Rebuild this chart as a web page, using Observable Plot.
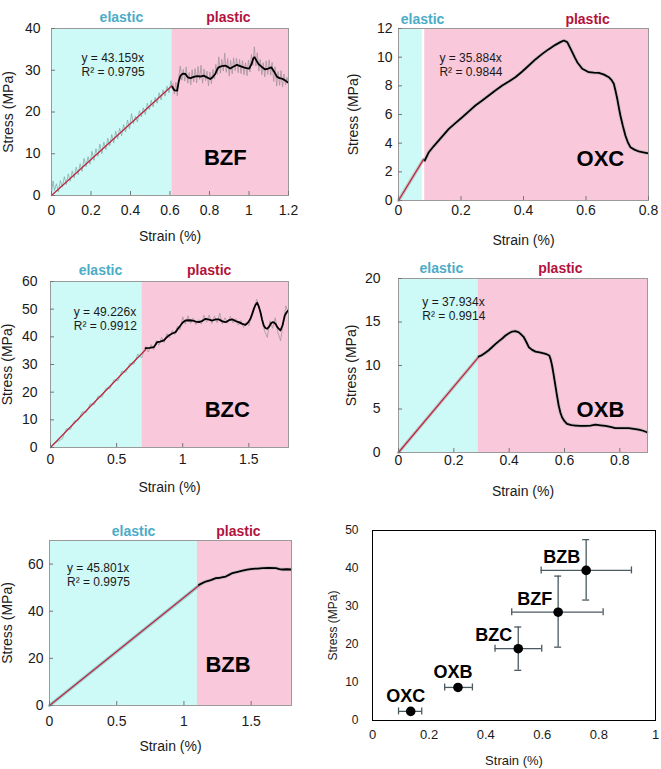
<!DOCTYPE html>
<html><head><meta charset="utf-8">
<script src="https://cdn.jsdelivr.net/npm/d3@7"></script>
<script src="https://cdn.jsdelivr.net/npm/@observablehq/plot@0.6"></script>
<style>
body{margin:0;background:#fff;}
#wrap{position:relative;width:661px;height:769px;overflow:hidden;font-family:Arial,"Liberation Sans",sans-serif;}
.panel{position:absolute;}
</style></head><body><div id="wrap"></div>
<script>
// ---------------- DATA ----------------
const sampleNames = ["BZF", "OXC", "BZC", "OXB", "BZB"];
const equations = ["y = 43.159x\nR² = 0.9795", "y = 35.884x\nR² = 0.9844", "y = 49.226x\nR² = 0.9912", "y = 37.934x\nR² = 0.9914", "y = 45.801x\nR² = 0.9975"];
const xDomains = [[0, 1.2], [0, 0.8], [0, 1.8], [0, 0.9], [0, 1.8]];
const yDomains = [[0, 40], [0, 12], [0, 60], [0, 20], [0, 70]];
const xTickValues = [[0, 0.2, 0.4, 0.6, 0.8, 1, 1.2], [0, 0.2, 0.4, 0.6, 0.8], [0, 0.5, 1, 1.5], [0, 0.2, 0.4, 0.6, 0.8], [0, 0.5, 1, 1.5]];
const yTickValues = [[0, 10, 20, 30, 40], [0, 2, 4, 6, 8, 10, 12], [0, 10, 20, 30, 40, 50, 60], [0, 5, 10, 15, 20], [0, 20, 40, 60]];
// elastic region end, plastic region start (strain %)
const elasticEnd = [0.61, 0.076, 0.692, 0.288, 1.1];
const plasticStart = [0.61, 0.084, 0.692, 0.288, 1.1];
// where the "elastic" / "plastic" headings sit (strain %)
const elasticHeadX = [0.354, 0.077, 0.378, 0.155, 0.625];
const plasticHeadX = [0.896, 0.605, 1.2, 0.585, 1.405];
// annotation anchors in data units [strain, stress]
const equationAt = [[0.152, 31.4], [0.131, 9.5], [0.176, 46.5], [0.086, 16.5], [0.13, 55.7]];
const nameAt = [[0.88, 8.9], [0.646, 2.93], [1.337, 13.4], [0.73, 4.9], [1.328, 17.1]];
// linear fit lines (two end points)
const fitLines = [
  [[0, 0], [0.61, 26.3]],
  [[0, 0], [0.08, 2.87]],
  [[0, 0], [0.72, 35.4]],
  [[0, 0], [0.29, 11.0]],
  [[0, 0], [1.12, 51.3]]
];
// raw (noisy) measurements, elastic part
const rawElasticBZF = [[0,0.5],[0.008,3.5],[0.015,1.2],[0.025,2.8],[0.035,0.9],[0.045,3.6],[0.055,2.0],[0.065,4.5],[0.075,2.6],[0.085,5.2],[0.095,3.4],[0.105,5.9],[0.115,4.2],[0.125,6.8],[0.135,5.0],[0.145,7.6],[0.155,5.8],[0.165,8.9],[0.175,6.9],[0.185,9.3],[0.195,7.5],[0.205,10.6],[0.215,8.4],[0.225,11.2],[0.235,9.4],[0.245,12.3],[0.255,10.0],[0.265,12.8],[0.275,11.0],[0.285,13.7],[0.295,11.9],[0.305,14.6],[0.315,12.6],[0.325,15.4],[0.335,13.6],[0.345,16.1],[0.355,14.3],[0.365,17.0],[0.375,15.2],[0.385,18.1],[0.395,16.0],[0.405,19.6],[0.415,17.2],[0.425,19.0],[0.435,17.6],[0.445,20.3],[0.455,18.8],[0.465,21.0],[0.475,19.4],[0.485,22.1],[0.495,20.6],[0.505,22.8],[0.515,21.2],[0.525,23.5],[0.535,22.1],[0.545,24.6],[0.555,22.9],[0.565,25.3],[0.575,23.8],[0.585,26.2],[0.595,24.6],[0.605,27.5],[0.612,25.5]];
const rawElasticBZC = [[0,0],[0.03,1.6],[0.06,2.3],[0.09,3.2],[0.12,6.8],[0.15,6.5],[0.18,9.6],[0.21,9.8],[0.24,12.9],[0.27,12.6],[0.3,15.8],[0.33,15.4],[0.36,18.6],[0.39,18.2],[0.42,21.4],[0.45,21.3],[0.48,24.5],[0.51,24.1],[0.54,27.6],[0.57,27.2],[0.6,30.4],[0.63,30.1],[0.66,33.8],[0.69,32.4],[0.71,35.6]];
// raw (noisy) measurements, plastic part
const rawPlasticBZF = [[0.615,26.8],[0.622,24.3],[0.63,27.1],[0.637,23.9],[0.645,28.5],[0.652,31.0],[0.66,27.6],[0.667,30.2],[0.675,27.4],[0.682,30.8],[0.69,26.9],[0.697,29.5],[0.705,26.5],[0.712,30.1],[0.72,27.2],[0.727,30.4],[0.735,27.0],[0.742,30.9],[0.75,27.8],[0.757,31.2],[0.765,26.9],[0.772,30.3],[0.78,27.5],[0.787,29.8],[0.795,26.3],[0.802,29.6],[0.81,26.8],[0.817,30.2],[0.825,27.9],[0.832,31.4],[0.84,29.0],[0.847,33.2],[0.855,29.3],[0.862,32.6],[0.87,29.8],[0.877,34.1],[0.885,29.5],[0.892,32.8],[0.9,28.6],[0.907,32.4],[0.915,29.1],[0.922,33.0],[0.93,29.9],[0.937,32.9],[0.945,29.4],[0.952,32.6],[0.96,29.2],[0.967,32.3],[0.975,28.9],[0.982,31.8],[0.99,28.7],[0.997,32.4],[1.005,29.6],[1.012,33.8],[1.02,31.2],[1.027,35.6],[1.035,31.0],[1.042,34.2],[1.05,29.8],[1.057,32.6],[1.065,28.9],[1.072,31.8],[1.08,28.4],[1.087,32.2],[1.095,29.0],[1.102,32.5],[1.11,28.8],[1.117,31.9],[1.125,27.3],[1.132,30.8],[1.14,26.2],[1.147,29.7],[1.155,26.4],[1.162,29.9],[1.17,26.0],[1.177,29.1],[1.185,26.5],[1.192,28.3],[1.2,26.8]];
const rawPlasticBZC = [[0.72,36.6],[0.74,34.5],[0.76,37.2],[0.78,35.4],[0.8,38.6],[0.82,37.0],[0.84,39.8],[0.86,37.9],[0.88,41.2],[0.9,39.6],[0.92,42.3],[0.94,40.8],[0.96,43.9],[0.98,42.6],[1.0,47.2],[1.02,44.6],[1.04,47.6],[1.06,44.9],[1.08,46.8],[1.1,44.4],[1.12,46.2],[1.14,44.6],[1.16,47.8],[1.18,45.3],[1.2,47.9],[1.22,44.8],[1.24,47.5],[1.26,45.1],[1.28,48.6],[1.3,44.7],[1.32,46.9],[1.34,44.9],[1.36,47.4],[1.38,45.0],[1.4,46.6],[1.42,44.2],[1.44,45.9],[1.46,43.4],[1.48,45.2],[1.5,44.0],[1.52,47.8],[1.54,50.6],[1.56,53.5],[1.58,50.2],[1.6,45.6],[1.62,42.0],[1.64,39.8],[1.66,45.8],[1.68,43.1],[1.7,46.9],[1.72,41.5],[1.74,38.6],[1.76,44.8],[1.78,51.2],[1.8,48.4]];
// smoothed plastic curves
const smoothBZF = [[0.612,26.0],[0.622,25.2],[0.636,25.1],[0.645,27.5],[0.653,28.7],[0.665,29.2],[0.678,29.1],[0.69,28.3],[0.704,28.1],[0.72,28.4],[0.737,28.6],[0.755,28.5],[0.77,28.7],[0.787,28.3],[0.804,27.9],[0.817,28.4],[0.829,29.1],[0.838,30.1],[0.846,30.7],[0.862,31.0],[0.88,31.1],[0.893,30.8],[0.905,30.4],[0.922,30.9],[0.939,31.3],[0.956,31.0],[0.973,30.7],[0.988,30.5],[1.001,30.4],[1.013,31.5],[1.022,32.9],[1.028,33.1],[1.038,32.3],[1.048,31.5],[1.065,30.8],[1.082,30.2],[1.097,30.4],[1.113,30.7],[1.128,29.6],[1.142,28.4],[1.155,28.1],[1.167,28.0],[1.182,27.6],[1.196,27.1]];
const smoothOXC = [[0.084,2.79],[0.097,3.37],[0.113,3.8],[0.129,4.19],[0.145,4.6],[0.161,5.0],[0.183,5.42],[0.204,5.81],[0.225,6.22],[0.246,6.63],[0.268,6.98],[0.289,7.33],[0.31,7.68],[0.332,8.02],[0.353,8.3],[0.374,8.6],[0.396,9.0],[0.417,9.42],[0.438,9.84],[0.46,10.23],[0.481,10.56],[0.502,10.86],[0.518,11.05],[0.529,11.16],[0.54,11.05],[0.548,10.7],[0.556,10.35],[0.564,9.98],[0.572,9.65],[0.588,9.19],[0.609,8.95],[0.625,8.92],[0.641,8.9],[0.658,8.78],[0.673,8.6],[0.682,8.4],[0.689,8.14],[0.695,7.6],[0.7,7.1],[0.705,6.5],[0.71,5.93],[0.718,5.2],[0.726,4.54],[0.734,4.05],[0.742,3.72],[0.755,3.55],[0.769,3.42],[0.783,3.36],[0.796,3.3]];
const smoothBZC = [[0.719,35.9],[0.75,36.0],[0.782,36.3],[0.795,37.2],[0.807,38.1],[0.83,38.3],[0.857,38.7],[0.875,39.6],[0.895,40.5],[0.92,41.2],[0.946,41.7],[0.965,43.0],[0.983,44.1],[1.0,45.2],[1.021,45.9],[1.045,46.0],[1.072,45.9],[1.1,45.5],[1.122,45.3],[1.15,45.8],[1.172,46.5],[1.2,46.2],[1.223,45.9],[1.25,46.3],[1.273,46.3],[1.3,45.6],[1.324,45.3],[1.35,46.0],[1.374,46.3],[1.4,45.7],[1.424,45.3],[1.45,44.7],[1.475,44.3],[1.495,45.2],[1.512,46.5],[1.525,48.2],[1.538,50.1],[1.55,51.5],[1.563,52.3],[1.575,51.0],[1.588,48.9],[1.6,46.3],[1.613,44.1],[1.625,43.2],[1.638,42.9],[1.655,43.8],[1.668,44.9],[1.68,45.3],[1.69,45.2],[1.701,44.7],[1.72,43.2],[1.739,42.3],[1.755,44.2],[1.772,47.7],[1.785,48.8],[1.797,49.5]];
const smoothOXB = [[0.29,11.03],[0.302,11.2],[0.314,11.46],[0.326,11.75],[0.338,12.1],[0.35,12.45],[0.363,12.8],[0.375,13.1],[0.387,13.45],[0.399,13.7],[0.411,13.9],[0.423,13.95],[0.435,13.8],[0.444,13.55],[0.453,13.25],[0.462,12.7],[0.471,12.1],[0.483,11.8],[0.495,11.6],[0.51,11.5],[0.525,11.4],[0.535,11.3],[0.545,11.15],[0.55,10.7],[0.555,10.0],[0.561,8.9],[0.567,7.7],[0.573,6.5],[0.579,5.4],[0.585,4.6],[0.591,4.06],[0.6,3.6],[0.609,3.3],[0.625,3.15],[0.64,3.1],[0.658,3.05],[0.676,3.05],[0.694,3.1],[0.712,3.2],[0.73,3.12],[0.748,3.05],[0.766,2.95],[0.784,2.8],[0.808,2.8],[0.832,2.8],[0.85,2.72],[0.868,2.64],[0.884,2.5],[0.898,2.33]];
const smoothBZB = [[1.112,51.2],[1.137,51.9],[1.162,52.6],[1.2,53.2],[1.237,54.0],[1.27,54.2],[1.311,54.7],[1.335,55.4],[1.361,56.2],[1.4,56.7],[1.436,57.2],[1.47,57.6],[1.51,58.0],[1.55,58.1],[1.585,58.3],[1.63,58.4],[1.684,58.3],[1.71,57.9],[1.734,57.7],[1.765,57.8],[1.796,57.7]];

// summary panel
const summaryNames = ["OXC", "OXB", "BZC", "BZF", "BZB"];
const summaryStrain = [0.135, 0.302, 0.515, 0.656, 0.755];
const summaryStress = [2.4, 8.7, 18.9, 28.5, 39.5];
const summaryStrainLo = [0.092, 0.255, 0.433, 0.492, 0.596];
const summaryStrainHi = [0.174, 0.353, 0.598, 0.815, 0.915];
const summaryStressLo = [null, null, 13.2, 19.3, 31.7];
const summaryStressHi = [null, null, 24.6, 38.0, 47.6];
const summaryXTicks = [0, 0.2, 0.4, 0.6, 0.8, 1];
const summaryYTicks = [0, 10, 20, 30, 40, 50];

// ---------------- DRAWING ----------------
const CYAN = "#cdf9f7", PINK = "#f9c8da";
const FONT = "Arial, 'Liberation Sans', sans-serif";
const smooths = [smoothBZF, smoothOXC, smoothBZC, smoothOXB, smoothBZB];
const rawE = [rawElasticBZF, null, rawElasticBZC, null, null];
const rawP = [rawPlasticBZF, null, rawPlasticBZC, null, null];

const layout = [
  {left: 0, top: 0, width: 330, height: 245, mt: 28, mb: 50, ml: 51, mr: 42, xPad: 14, yPad: 15, xLab: 45, yLab: 48, head: -16},
  {left: 330, top: 0, width: 331, height: 250, mt: 28, mb: 50, ml: 68, mr: 13, xPad: 9, yPad: 10, xLab: 44, yLab: 50, head: -14},
  {left: 0, top: 250, width: 330, height: 250, mt: 31, mb: 53, ml: 50, mr: 42, xPad: 11, yPad: 17, xLab: 44, yLab: 48, head: -16},
  {left: 330, top: 250, width: 331, height: 255, mt: 28, mb: 53, ml: 68, mr: 14, xPad: 7, yPad: 22, xLab: 43, yLab: 52, head: -15},
  {left: 0, top: 505, width: 330, height: 264, mt: 35, mb: 64, ml: 49, mr: 39, xPad: 15, yPad: 10, xLab: 45, yLab: 47, head: -14}
];

const wrap = document.getElementById("wrap");
function place(svg, L) {
  const div = document.createElement("div");
  div.className = "panel";
  div.style.left = L.left + "px";
  div.style.top = L.top + "px";
  div.appendChild(svg);
  wrap.appendChild(div);
}

for (let i = 0; i < 5; i++) {
  const L = layout[i];
  const [x0, x1] = xDomains[i], [y0, y1] = yDomains[i];
  const marks = [
    Plot.rect([{a: x0, b: elasticEnd[i], c: y0, d: y1}], {x1: "a", x2: "b", y1: "c", y2: "d", fill: CYAN}),
    Plot.rect([{a: plasticStart[i], b: x1, c: y0, d: y1}], {x1: "a", x2: "b", y1: "c", y2: "d", fill: PINK})
  ];
  if (rawE[i]) marks.push(Plot.line(rawE[i], {x: "0", y: "1", stroke: "#7faaa6", strokeWidth: 0.9, strokeOpacity: 0.85}));
  else marks.push(Plot.line(fitLines[i], {x: "0", y: "1", stroke: i === 4 ? "#7fc0c0" : "#b8b8b8", strokeWidth: 3.5, strokeOpacity: 0.7}));
  if (rawP[i]) marks.push(Plot.line(rawP[i], {x: "0", y: "1", stroke: "#a0939d", strokeWidth: 0.9, strokeOpacity: 0.85}));
  else marks.push(Plot.line(smooths[i], {x: "0", y: "1", stroke: "#b0b0b0", strokeWidth: 3.5, strokeOpacity: 0.6}));
  marks.push(
    Plot.line(fitLines[i], {x: "0", y: "1", stroke: "#c0283f", strokeWidth: 1.3}),
    Plot.line(smooths[i], {x: "0", y: "1", stroke: "#000", strokeWidth: 1.8}),
    Plot.text([equations[i]], {x: () => equationAt[i][0], y: () => equationAt[i][1], text: d => d, textAnchor: "start", lineAnchor: "middle", fontSize: 12, lineHeight: 1.15, fill: "#1a1a1a"}),
    Plot.text([sampleNames[i]], {x: () => nameAt[i][0], y: () => nameAt[i][1], text: d => d, fontSize: 22, fontWeight: "bold", fill: "#000"}),
    Plot.text(["elastic"], {x: () => elasticHeadX[i], text: d => d, frameAnchor: "top", dy: L.head, fontSize: 14, fontWeight: "bold", fill: "#4bacc6", clip: false}),
    Plot.text(["plastic"], {x: () => plasticHeadX[i], text: d => d, frameAnchor: "top", dy: L.head, fontSize: 14, fontWeight: "bold", fill: "#b3123c", clip: false}),
    Plot.frame({stroke: "#9a9a9a", strokeWidth: 1}),
    Plot.axisX({ticks: xTickValues[i], tickFormat: d => String(d), tickSize: -4, tickPadding: L.xPad, label: "Strain (%)", labelAnchor: "center", labelArrow: false, labelOffset: L.xLab, fontSize: 14, stroke: "#777"}),
    Plot.axisY({ticks: yTickValues[i], tickFormat: d => String(d), tickSize: -4, tickPadding: L.yPad, label: "Stress (MPa)", labelAnchor: "center", labelArrow: false, labelOffset: L.yLab, fontSize: 14, stroke: "#777"})
  );
  const svg = Plot.plot({
    width: L.width, height: L.height,
    marginTop: L.mt, marginBottom: L.mb, marginLeft: L.ml, marginRight: L.mr,
    x: {domain: xDomains[i]}, y: {domain: yDomains[i]},
    style: {fontFamily: FONT, fontSize: "14px", color: "#1a1a1a", background: "transparent", overflow: "visible"},
    marks
  });
  place(svg, L);
}

// summary panel
const summary = summaryNames.map((n, k) => ({
  name: n, x: summaryStrain[k], y: summaryStress[k],
  xlo: summaryStrainLo[k], xhi: summaryStrainHi[k],
  ylo: summaryStressLo[k], yhi: summaryStressHi[k]
}));
const withY = summary.filter(d => d.ylo != null);
const EB = "#4a5a60";
const L6 = {left: 330, top: 505, width: 331, height: 264};
const svg6 = Plot.plot({
  width: L6.width, height: L6.height,
  marginTop: 25, marginBottom: 49, marginLeft: 42, marginRight: 6,
  x: {domain: [0, 1]}, y: {domain: [0, 50]},
  style: {fontFamily: FONT, fontSize: "13px", color: "#1a1a1a", background: "transparent", overflow: "visible"},
  marks: [
    Plot.ruleY(summary, {y: "y", x1: "xlo", x2: "xhi", stroke: EB, strokeWidth: 1.3}),
    Plot.ruleX(summary, {x: "xlo", y1: "y", y2: "y", insetTop: -3.5, insetBottom: -3.5, stroke: EB, strokeWidth: 1.3}),
    Plot.ruleX(summary, {x: "xhi", y1: "y", y2: "y", insetTop: -3.5, insetBottom: -3.5, stroke: EB, strokeWidth: 1.3}),
    Plot.ruleX(withY, {x: "x", y1: "ylo", y2: "yhi", stroke: EB, strokeWidth: 1.3}),
    Plot.ruleY(withY, {y: "ylo", x1: "x", x2: "x", insetLeft: -3.5, insetRight: -3.5, stroke: EB, strokeWidth: 1.3}),
    Plot.ruleY(withY, {y: "yhi", x1: "x", x2: "x", insetLeft: -3.5, insetRight: -3.5, stroke: EB, strokeWidth: 1.3}),
    Plot.dot(summary, {x: "x", y: "y", r: 4.8, fill: "#000"}),
    Plot.text(summary.filter(d => d.name.startsWith("BZ")), {x: "x", y: "y", text: "name", textAnchor: "end", dx: -6, dy: -13, fontSize: 18, fontWeight: "bold", fill: "#000"}),
    Plot.text(summary.filter(d => d.name.startsWith("OX")), {x: "x", y: "y", text: "name", dx: -5, dy: -15, fontSize: 18, fontWeight: "bold", fill: "#000"}),
    Plot.frame({stroke: "#000", strokeWidth: 1}),
    Plot.axisX({ticks: summaryXTicks, tickFormat: d => String(d), tickSize: 0, tickPadding: 9, label: "Strain (%)", labelAnchor: "center", labelArrow: false, labelOffset: 44, fontSize: 13}),
    Plot.axisY({ticks: summaryYTicks, tickFormat: d => String(d), tickSize: 0, tickPadding: 14, label: "Stress (MPa)", labelAnchor: "center", labelArrow: false, labelOffset: 44, fontSize: 12})
  ]
});
place(svg6, L6);
</script>
</body></html>
